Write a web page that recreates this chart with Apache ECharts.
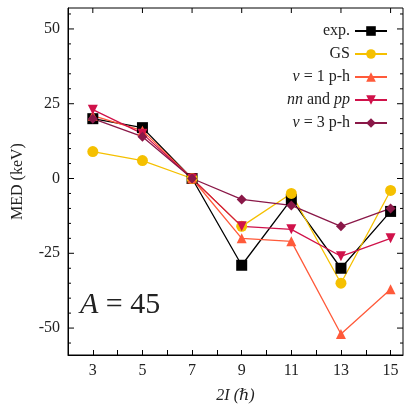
<!DOCTYPE html><html><head><meta charset="utf-8"><script src="https://cdn.jsdelivr.net/npm/echarts@6/dist/echarts.min.js"></script></head><body style="margin:0"><div id="c" style="width:415px;height:415px"></div><script>
const xs=[3,5,7,9,11,13,15];
const expV=[20,17,0,-29,-7,-30,-11];
const gsV=[9,6,0,-16,-5,-35,-4];
const nu1V=[21,16,0,-20,-21,-52,-37];
const nnV=[23,15,0,-16,-17,-26,-20];
const nu3V=[20,14,0,-7,-9,-16,-10];
const yTicks=[-50,-25,0,25,50];
const F='"Liberation Serif", "DejaVu Serif", serif';
const mk=(name,d,color,symbol,size)=>({name,type:'line',data:xs.map((x,i)=>[x,d[i]]),symbol,symbolSize:size,itemStyle:{color},lineStyle:{color,width:1.3}});
const ch=echarts.init(document.getElementById('c'));
const names={'exp.':'exp.','GS':'GS','nu1':'{i|ν} = 1 p-h','nn':'{i|nn} and {i|pp}','nu3':'{i|ν} = 3 p-h'};
ch.setOption({animation:false,
grid:{left:68,right:12,top:8,bottom:60},
legend:{right:22,top:18,orient:'vertical',align:'right',itemGap:7,itemWidth:32,itemHeight:12,
 formatter:n=>names[n],textStyle:{fontFamily:F,fontSize:16,color:'#222',rich:{i:{fontStyle:'italic',fontFamily:F,fontSize:16}}}},
xAxis:{type:'value',min:2,max:15.5,interval:1,name:'2I (ℏ)',nameLocation:'middle',nameGap:33,nameTextStyle:{fontFamily:F,fontSize:16,color:'#222',fontStyle:'italic'},
 axisLine:{onZero:false,lineStyle:{color:'#000'}},axisTick:{inside:true,length:5,lineStyle:{color:'#000'},interval:0},
 axisLabel:{fontFamily:F,fontSize:16,color:'#222',formatter:v=>v%2?String(v):''},splitLine:{show:false}},
yAxis:{type:'value',min:-59,max:57,name:'MED (keV)',nameLocation:'middle',nameGap:42,nameTextStyle:{fontFamily:F,fontSize:16,color:'#222'},
 axisLine:{onZero:false,lineStyle:{color:'#000'}},axisTick:{show:false},axisLabel:{show:false},splitLine:{show:false}},
series:[
 mk('exp.',expV,'#000','rect',11),
 mk('GS',gsV,'#f5c000','circle',11),
 mk('nu1',nu1V,'#ff5a3a','triangle',10),
 mk('nn',nnV,'#d0124a',"path://M0,0 L10,0 L5,9 Z",10),
 mk('nu3',nu3V,'#8a1848','diamond',10)
]});
const ticks=[];for(let v=-55;v<=55;v+=5)ticks.push(v);
const g=[];
ticks.forEach(v=>{const p=ch.convertToPixel({gridIndex:0},[2,v]);const len=yTicks.includes(v)?6:3;
 g.push({type:'line',shape:{x1:68,y1:p[1],x2:68+len,y2:p[1]},style:{stroke:'#000'}});
 g.push({type:'line',shape:{x1:403,y1:p[1],x2:403-len,y2:p[1]},style:{stroke:'#000'}});
 if(yTicks.includes(v))g.push({type:'text',x:60,y:p[1],style:{text:String(v),font:'16px '+F,fill:'#222',align:'right',verticalAlign:'middle'}});});
xs.forEach(x=>{const p=ch.convertToPixel({gridIndex:0},[x,0]);g.push({type:'line',shape:{x1:p[0],y1:8,x2:p[0],y2:13},style:{stroke:'#000'}});});
g.push({type:'rect',shape:{x:68,y:8,width:335,height:347},style:{fill:'none',stroke:'#000'}});
g.push({type:'text',x:80,y:290,style:{text:'{i|A} = 45',font:'30px '+F,fill:'#222',rich:{i:{fontStyle:'italic',fontFamily:F,fontSize:30}}}});
ch.setOption({graphic:g},{replaceMerge:['graphic']});
</script></body></html>
